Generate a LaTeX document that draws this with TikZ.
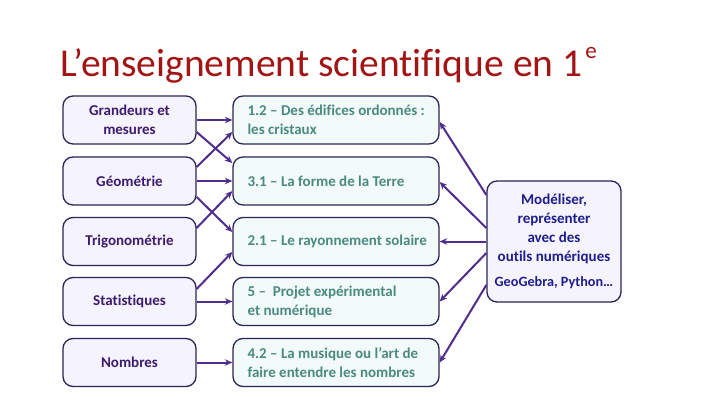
\documentclass[tikz,border=0pt]{standalone}
\usepackage{fontspec}
\setmainfont[Ligatures=NoCommon]{Carlito}
\usetikzlibrary{arrows.meta}
\definecolor{boxline}{HTML}{2B2459}
\definecolor{leftfill}{HTML}{F5F3FD}
\definecolor{midfill}{HTML}{F3FAFA}
\definecolor{lefttext}{HTML}{3D1C6E}
\definecolor{midtext}{HTML}{4B8A7F}
\definecolor{righttext}{HTML}{1E1E8C}
\definecolor{arrowcol}{HTML}{4E2D8C}
\definecolor{titlecol}{HTML}{A31515}
\tikzset{
  x=1pt,y=1pt,
  box/.style={draw=boxline,line width=1.3pt,rounded corners=10pt,inner sep=0pt},
  leftbox/.style={box,fill=leftfill,minimum width=133pt,minimum height=48pt,
    text=lefttext,font=\bfseries\fontsize{15}{19}\selectfont,align=center},
  midbox/.style={box,fill=midfill,minimum width=206pt,minimum height=48pt},
  midtxt/.style={anchor=west,inner sep=0pt,text=midtext,
    font=\bfseries\fontsize{15}{19}\selectfont,align=left},
  rightbox/.style={box,fill=leftfill,minimum width=134pt,minimum height=121pt,
    text=righttext,font=\bfseries\fontsize{15}{19}\selectfont,align=center},
  conn/.style={draw=arrowcol,line width=2pt,-{Stealth[length=7.5pt,width=6.5pt]}},
}
\begin{document}
\begin{tikzpicture}
\useasboundingbox[fill=white] (0,0) rectangle (720,405);
% title
\node[anchor=base west,inner sep=0pt,text=titlecol,font=\fontsize{39.5}{44}\selectfont] (title) at (60,328) {L’enseignement scientifique en 1\hspace{3pt}\raisebox{18pt}{\fontsize{23}{23}\selectfont e}};
% left column
\node[leftbox] (L1) at (129.5,285) {Grandeurs et\\mesures};
\node[leftbox] (L2) at (129.5,224) {Géométrie};
\node[leftbox] (L3) at (129.5,163.5) {Trigonométrie};
\node[leftbox] (L4) at (129.5,103.5) {Statistiques};
\node[leftbox] (L5) at (129.5,42.5) {Nombres};
% middle column
\node[midbox] (M1) at (336,285) {};
\node[midbox] (M2) at (336,224) {};
\node[midbox] (M3) at (336,163.5) {};
\node[midbox] (M4) at (336,103.5) {};
\node[midbox] (M5) at (336,42.5) {};
\node[midtxt] (M1t) at ([xshift=15pt]M1.west) {1.2 – Des édifices ordonnés :\\les cristaux};
\node[midtxt] (M2t) at ([xshift=15pt]M2.west) {3.1 – La forme de la Terre};
\node[midtxt] (M3t) at ([xshift=15pt]M3.west) {2.1 – Le rayonnement solaire};
\node[midtxt] (M4t) at ([xshift=15pt]M4.west) {5 –\ \ Projet expérimental\\et numérique};
\node[midtxt] (M5t) at ([xshift=15pt]M5.west) {4.2 – La musique ou l’art de\\faire entendre les nombres};
% right box
\node[rightbox] (R) at (554,163.5) {Modéliser,\\représenter\\avec des\\outils numériques\\[6pt]{\fontsize{14.2}{17}\selectfont GeoGebra, Python…}};
% left to middle
\draw[conn] (L1.east) -- (M1.west);
\draw[conn] ([yshift=-12pt]L1.east) -- ([yshift=18pt]M2.west);
\draw[conn] ([yshift=14pt]L2.east) -- ([yshift=-12pt]M1.west);
\draw[conn] (L2.east) -- (M2.west);
\draw[conn] ([yshift=-16pt]L2.east) -- ([yshift=9.5pt]M3.west);
\draw[conn] ([yshift=13.5pt]L3.east) -- ([yshift=-10pt]M2.west);
\draw[conn] ([yshift=12.5pt]L4.east) -- ([yshift=-10.5pt]M3.west);
\draw[conn] (L4.east) -- (M4.west);
\draw[conn] (L5.east) -- (M5.west);
% right to middle
\draw[conn] ([yshift=46.5pt]R.west) -- ([yshift=-2pt]M1.east);
\draw[conn] ([yshift=13.5pt]R.west) -- ([yshift=-1pt]M2.east);
\draw[conn] (R.west) -- (M3.east);
\draw[conn] ([yshift=-11.5pt]R.west) -- (M4.east);
\draw[conn] ([yshift=-43.5pt]R.west) -- (M5.east);
\end{tikzpicture}
\end{document}
